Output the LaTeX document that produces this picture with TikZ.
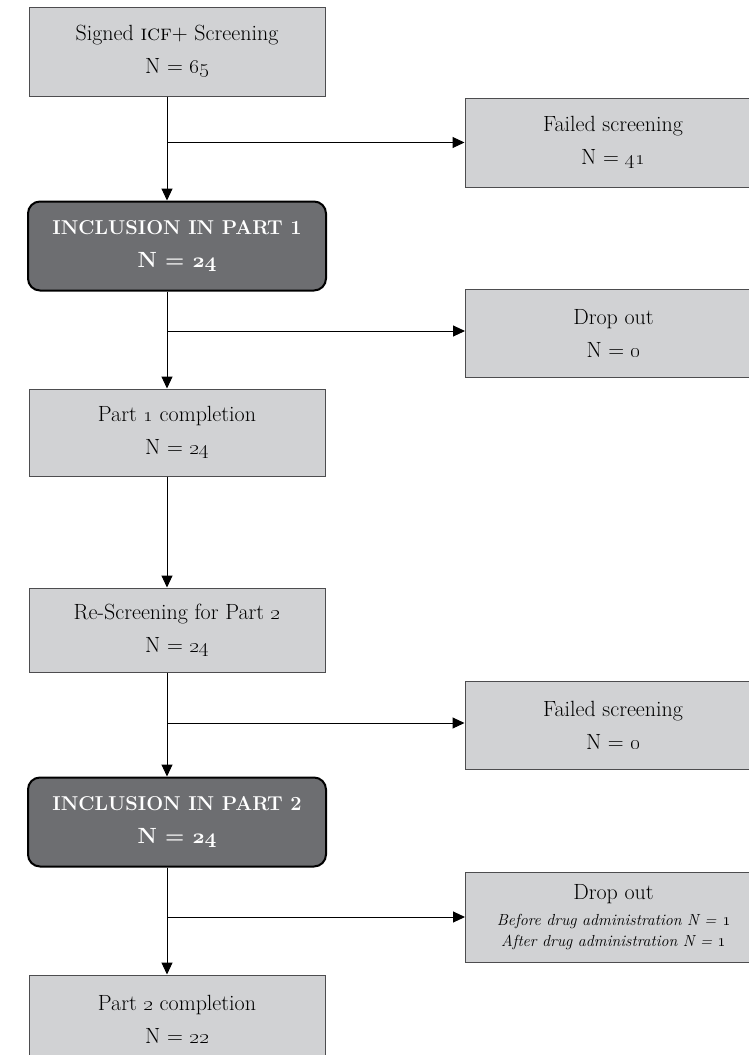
\documentclass[tikz,border=0pt]{standalone}
\usepackage{tikz}
\usepackage{xcolor}
\usetikzlibrary{arrows.meta, positioning}
\definecolor{boxfill}{HTML}{D1D2D4}
\definecolor{boxline}{HTML}{4D4D4F}
\definecolor{stagefill}{HTML}{6D6E71}
\tikzstyle{stepbox} = [rectangle, minimum width=296pt, minimum height=89pt, align=center, draw=boxline, line width=1pt, fill=boxfill, font=\fontsize{22}{33}\selectfont]
\tikzstyle{exitbox} = [stepbox, minimum height=88pt]
\tikzstyle{stage} = [rectangle, rounded corners=12pt, minimum width=298pt, minimum height=89pt, align=center, draw=black, line width=2pt, fill=stagefill, text=white, font=\fontsize{22}{33}\selectfont\bfseries]
\tikzstyle{arrow} = [line width=1pt, -{Triangle[length=12pt,width=11pt]}]
\newcommand{\osn}[1]{\oldstylenums{#1}}
\newcommand{\boldosn}[1]{{\usefont{OML}{cmm}{b}{it}#1}}
\newcommand{\stagetitle}[1]{{\fontsize{20}{33}\selectfont #1}}
\newcommand{\notefont}{\itshape\fontsize{16}{21}\selectfont}

\begin{document}
\begin{tikzpicture}[x=1pt, y=1pt]
\useasboundingbox (0,0) rectangle (748,-1055);

% Part 1
\node (screen) [stepbox] at (177,-51.5) {Signed \textsc{icf}+ Screening\\ N = \osn{65}};
\node (incl1) [stage, below=104pt of screen] {\stagetitle{INCLUSION IN PART 1}\\ N = \boldosn{24}};
\node (part1) [stepbox, minimum height=87pt, below=97pt of incl1] {Part \osn{1} completion\\ N = \osn{24}};
\node (fail1) [exitbox, minimum height=89pt, below right=1pt and 139pt of screen.south east] {Failed screening\\ N = \osn{41}};
\node (drop1) [exitbox, below right=-3pt and 138pt of incl1.south east] {Drop out\\ N = \osn{0}};

% Part 2
\node (rescreen) [stepbox, minimum height=84pt, below=111pt of part1] {Re-Screening for Part \osn{2}\\ N = \osn{24}};
\node (incl2) [stage, below=104pt of rescreen] {\stagetitle{INCLUSION IN PART 2}\\ N = \boldosn{24}};
\node (part2) [stepbox, below=107pt of incl2] {Part \osn{2} completion\\ N = \osn{22}};
\node (fail2) [exitbox, below right=8pt and 139pt of rescreen.south east] {Failed screening\\ N = \osn{0}};
\node (drop2) [exitbox, minimum height=90pt, below right=4pt and 138pt of incl2.south east] {Drop out\\[-7pt]
    {\notefont Before drug administration N = \osn{1}}\\[-12pt]
    {\notefont After drug administration N = \osn{1}}};

% Connectors
\coordinate (spine) at ([xshift=-10pt]screen.south);
\draw[arrow] (spine) -- (incl1.north -| spine);
\draw[arrow] (incl1.south -| spine) -- (part1.north -| spine);
\draw[arrow] (part1.south -| spine) -- (rescreen.north -| spine);
\draw[arrow] (rescreen.south -| spine) -- (incl2.north -| spine);
\draw[arrow] (incl2.south -| spine) -- (part2.north -| spine);
\draw[arrow] (fail1.west -| spine) -- (fail1.west);
\draw[arrow] ([yshift=2pt]drop1.west -| spine) -- ([yshift=2pt]drop1.west);
\draw[arrow] ([yshift=2pt]fail2.west -| spine) -- ([yshift=2pt]fail2.west);
\draw[arrow] (drop2.west -| spine) -- (drop2.west);

\end{tikzpicture}
\end{document}
